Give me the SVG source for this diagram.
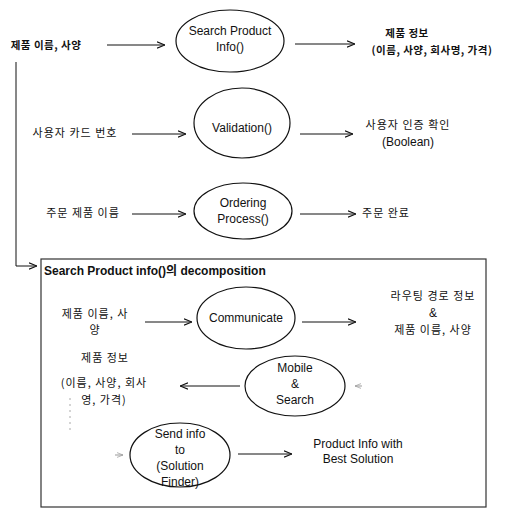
<svg xmlns="http://www.w3.org/2000/svg" width="516" height="510" viewBox="0 0 516 510">
<defs>
<marker id="ah" viewBox="0 0 10 10" refX="10" refY="5" markerWidth="8" markerHeight="8" markerUnits="userSpaceOnUse" orient="auto">
<path d="M0,1 L10,5 L0,9" fill="none" stroke="#111" stroke-width="1.4"/>
</marker>
<marker id="ahf" viewBox="0 0 10 10" refX="10" refY="5" markerWidth="6" markerHeight="6" markerUnits="userSpaceOnUse" orient="auto">
<path d="M0,1 L10,5 L0,9" fill="none" stroke="#999" stroke-width="1.2"/>
</marker>
</defs>
<style>
text{font-family:"Liberation Sans","Noto Sans CJK KR",sans-serif;font-size:12px;fill:#111;text-anchor:middle}
.k{font-family:"Noto Sans CJK KR","Liberation Sans",sans-serif;font-size:11px;letter-spacing:1px}
.kb{font-family:"Noto Sans CJK KR","Liberation Sans",sans-serif;font-size:10.5px;font-weight:bold;letter-spacing:0.5px}
ellipse{fill:#fff;stroke:#111;stroke-width:1.2}
.c{stroke:#111;stroke-width:1;fill:none;marker-end:url(#ah)}
.f{stroke:#aaa;stroke-width:1;fill:none}
</style>
<rect x="0" y="0" width="516" height="510" fill="#fff"/>
<g id="decomp-box">
<rect x="41" y="259" width="445" height="248" fill="none" stroke="#333" stroke-width="1.2"/>
<text x="44" y="275" style="text-anchor:start;font-weight:bold;font-size:12px">Search Product info()의 decomposition</text>
</g>
<g id="connectors">
<line class="c" x1="107" y1="45" x2="165" y2="45"/>
<line class="c" x1="295" y1="44" x2="355" y2="44"/>
<line class="c" x1="132" y1="134" x2="186" y2="134"/>
<line class="c" x1="300" y1="134" x2="353" y2="134"/>
<line class="c" x1="132" y1="214" x2="186" y2="214"/>
<line class="c" x1="300" y1="214" x2="356" y2="214"/>
<polyline class="c" points="16,62 16,266 37,266"/>
<line class="c" x1="145" y1="322" x2="192" y2="322"/>
<line class="c" x1="302" y1="322" x2="356" y2="322"/>
<line class="c" x1="240" y1="386" x2="180" y2="386"/>
<line class="c" x1="238" y1="454" x2="292" y2="454"/>
<line x1="362" y1="386" x2="355" y2="386" stroke="#999" stroke-width="1" marker-end="url(#ahf)"/>
<line x1="115" y1="455" x2="123" y2="455" stroke="#999" stroke-width="1" marker-end="url(#ahf)"/>
<line class="f" x1="70" y1="398" x2="70" y2="432" stroke-dasharray="2,4"/>
</g>
<g id="in-search">
<text class="kb" x="46" y="49">제품 이름, 사양</text>
</g>
<g id="search-product-info">
<ellipse cx="230" cy="41" rx="54" ry="31"/>
<text x="230" y="35">Search Product</text>
<text x="230" y="51">Info()</text>
</g>
<g id="out-search">
<text class="kb" x="407" y="37">제품 정보</text>
<text class="kb" x="432" y="54">(이름, 사양, 회사명, 가격)</text>
</g>
<g id="in-validation">
<text class="k" x="75" y="137">사용자 카드 번호</text>
</g>
<g id="validation">
<ellipse cx="242" cy="123" rx="48" ry="35"/>
<text x="242" y="132">Validation()</text>
</g>
<g id="out-validation">
<text class="k" x="408" y="129">사용자 인증 확인</text>
<text x="408" y="146">(Boolean)</text>
</g>
<g id="in-ordering">
<text class="k" x="83" y="217">주문 제품 이름</text>
</g>
<g id="ordering-process">
<ellipse cx="243" cy="211" rx="49" ry="28"/>
<text x="243" y="207">Ordering</text>
<text x="243" y="223">Process()</text>
</g>
<g id="out-ordering">
<text class="k" x="386" y="217">주문 완료</text>
</g>
<g id="in-communicate">
<text class="k" x="95" y="318">제품 이름, 사</text>
<text class="k" x="95" y="334">양</text>
</g>
<g id="communicate">
<ellipse cx="246" cy="318" rx="49" ry="31"/>
<text x="246" y="322">Communicate</text>
</g>
<g id="out-communicate">
<text class="k" x="433" y="300">라우팅 경로 정보</text>
<text x="433" y="317">&amp;</text>
<text class="k" x="433" y="334">제품 이름, 사양</text>
</g>
<g id="out-mobile">
<text class="k" x="105" y="362">제품 정보</text>
<text class="k" x="104" y="387">(이름, 사양, 회사</text>
<text class="k" x="104" y="404">영, 가격)</text>
</g>
<g id="mobile-search">
<ellipse cx="295" cy="386" rx="50" ry="30"/>
<text x="295" y="372">Mobile</text>
<text x="295" y="388">&amp;</text>
<text x="295" y="404">Search</text>
</g>
<g id="send-info">
<ellipse cx="180" cy="455" rx="50" ry="32"/>
<text x="180" y="438">Send info</text>
<text x="180" y="454">to</text>
<text x="180" y="470">(Solution</text>
<text x="180" y="486">Finder)</text>
</g>
<g id="out-send">
<text x="358" y="448">Product Info with</text>
<text x="358" y="463">Best Solution</text>
</g>
</svg>
